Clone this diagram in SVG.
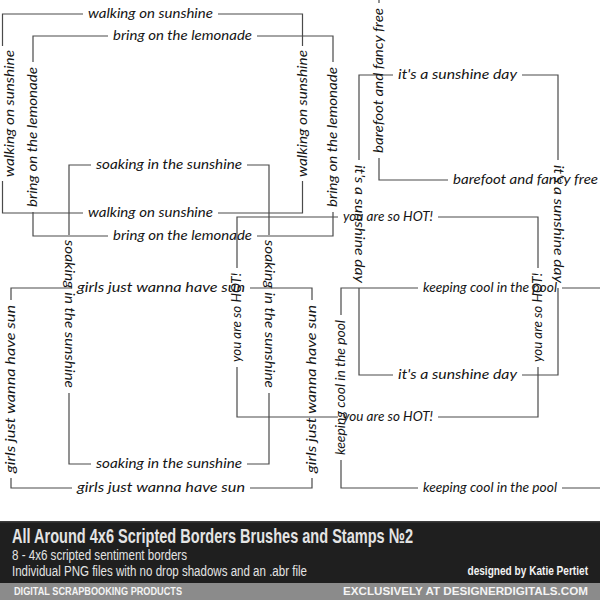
<svg xmlns="http://www.w3.org/2000/svg" width="600" height="600" viewBox="0 0 600 600">
<style>
.ln{fill:none;stroke:#4a4a4a;stroke-width:1.2}
.s{font-family:Lato,"Open Sans","DejaVu Sans",sans-serif;font-style:italic;font-weight:400;font-size:13px;fill:#151515;text-anchor:middle}
.b{font-family:"Liberation Sans",Arial,sans-serif;fill:#e4e4e4}
</style>
<rect width="600" height="600" fill="#ffffff"/>
<g id="frame-walking">
<path class="ln" d="M218,14 H302.5 V46 M302.5,181 V213 H218 M83,213 H2.5 V181 M2.5,46 V14 H83"/>
<text class="s" x="150.5" y="18" textLength="125" lengthAdjust="spacingAndGlyphs">walking on sunshine</text>
<text class="s" x="150.5" y="217" textLength="125" lengthAdjust="spacingAndGlyphs">walking on sunshine</text>
<text class="s" transform="translate(2.5,113.5) rotate(-90)" x="0" y="11" textLength="127" lengthAdjust="spacingAndGlyphs">walking on sunshine</text>
<text class="s" transform="translate(302.5,113.5) rotate(-90)" x="0" y="4" textLength="127" lengthAdjust="spacingAndGlyphs">walking on sunshine</text>
</g>
<g id="frame-lemonade">
<path class="ln" d="M257,36 H333 V62 M333,212 V236 H257 M108,236 H33 V212 M33,62 V36 H108"/>
<text class="s" x="182.5" y="40" textLength="139" lengthAdjust="spacingAndGlyphs">bring on the lemonade</text>
<text class="s" x="182.5" y="240" textLength="139" lengthAdjust="spacingAndGlyphs">bring on the lemonade</text>
<text class="s" transform="translate(33,137) rotate(-90)" x="0" y="4" textLength="140" lengthAdjust="spacingAndGlyphs">bring on the lemonade</text>
<text class="s" transform="translate(333,137) rotate(-90)" x="0" y="4" textLength="140" lengthAdjust="spacingAndGlyphs">bring on the lemonade</text>
</g>
<g id="frame-soaking">
<path class="ln" d="M247,165 H269 V235 M269,393 V464 H247 M91,464 H69 V393 M69,235 V165 H91"/>
<text class="s" x="169" y="169" textLength="146" lengthAdjust="spacingAndGlyphs">soaking in the sunshine</text>
<text class="s" x="169" y="468" textLength="146" lengthAdjust="spacingAndGlyphs">soaking in the sunshine</text>
<text class="s" transform="translate(69,314) rotate(90)" x="0" y="4" textLength="148" lengthAdjust="spacingAndGlyphs">soaking in the sunshine</text>
<text class="s" transform="translate(269,314) rotate(90)" x="0" y="4" textLength="148" lengthAdjust="spacingAndGlyphs">soaking in the sunshine</text>
</g>
<g id="frame-girls">
<path class="ln" d="M250,288 H312 V300 M312,478 V488 H250 M72,488 H11 V478 M11,300 V288 H72"/>
<text class="s" x="161" y="292" textLength="168" lengthAdjust="spacingAndGlyphs">girls just wanna have sun</text>
<text class="s" x="161" y="492" textLength="168" lengthAdjust="spacingAndGlyphs">girls just wanna have sun</text>
<text class="s" transform="translate(11,389) rotate(-90)" x="0" y="4" textLength="168" lengthAdjust="spacingAndGlyphs">girls just wanna have sun</text>
<text class="s" transform="translate(312,389) rotate(-90)" x="0" y="4" textLength="168" lengthAdjust="spacingAndGlyphs">girls just wanna have sun</text>
</g>
<g id="frame-hot">
<path class="ln" d="M438,217 H538 V268 M538,367 V417 H438 M338,417 H237 V367 M237,268 V217 H338"/>
<text class="s" x="388" y="221" textLength="90" lengthAdjust="spacingAndGlyphs">you are so HOT!</text>
<text class="s" x="388" y="421" textLength="90" lengthAdjust="spacingAndGlyphs">you are so HOT!</text>
<text class="s" transform="translate(237,317.5) rotate(-90)" x="0" y="4" textLength="89" lengthAdjust="spacingAndGlyphs">you are so HOT!</text>
<text class="s" transform="translate(538,317.5) rotate(-90)" x="0" y="4" textLength="89" lengthAdjust="spacingAndGlyphs">you are so HOT!</text>
</g>
<g id="frame-sunshine-day">
<path class="ln" d="M522,75 H558 V160 M558,288 V375 H522 M393,375 H359 V288 M359,160 V75 H393"/>
<text class="s" x="457.5" y="79" textLength="119" lengthAdjust="spacingAndGlyphs">it's a sunshine day</text>
<text class="s" x="457.5" y="379" textLength="119" lengthAdjust="spacingAndGlyphs">it's a sunshine day</text>
<text class="s" transform="translate(359,224) rotate(90)" x="0" y="4" textLength="118" lengthAdjust="spacingAndGlyphs">it's a sunshine day</text>
<text class="s" transform="translate(558,224) rotate(90)" x="0" y="4" textLength="118" lengthAdjust="spacingAndGlyphs">it's a sunshine day</text>
</g>
<g id="frame-barefoot">
<path class="ln" d="M379,-20 V3 M379,158 V180 H448"/>
<text class="s" x="525.5" y="184" textLength="145" lengthAdjust="spacingAndGlyphs">barefoot and fancy free</text>
<text class="s" transform="translate(379,80.5) rotate(-90)" x="0" y="4" textLength="145" lengthAdjust="spacingAndGlyphs">barefoot and fancy free</text>
</g>
<g id="frame-pool">
<path class="ln" d="M562,288 H610 M610,488 H562 M418,488 H341 V460 M341,315 V288 H418"/>
<text class="s" x="490" y="292" textLength="134" lengthAdjust="spacingAndGlyphs">keeping cool in the pool</text>
<text class="s" x="490" y="492" textLength="134" lengthAdjust="spacingAndGlyphs">keeping cool in the pool</text>
<text class="s" transform="translate(341,387.5) rotate(-90)" x="0" y="4" textLength="135" lengthAdjust="spacingAndGlyphs">keeping cool in the pool</text>
</g>
<g id="banner">
<rect x="0" y="521" width="600" height="62" fill="#1f1f1f"/>
<rect x="0" y="521" width="600" height="1.5" fill="#3c3c3c"/>
<rect x="0" y="583" width="600" height="17" fill="#8b8b8b"/>
<text class="b" x="12" y="543" font-size="21" font-weight="bold" textLength="401" lengthAdjust="spacingAndGlyphs">All Around 4x6 Scripted Borders Brushes and Stamps №2</text>
<text class="b" x="12" y="560" font-size="14" textLength="175" lengthAdjust="spacingAndGlyphs">8 - 4x6 scripted sentiment borders</text>
<text class="b" x="12" y="576" font-size="14" textLength="295" lengthAdjust="spacingAndGlyphs">Individual PNG files with no drop shadows and an .abr file</text>
<text class="b" transform="translate(588,575) scale(1,1.2)" x="0" y="0" font-size="10.1" font-weight="bold" text-anchor="end" style="fill:#f2f2f2">designed by Katie Pertiet</text>
<text class="b" x="14" y="595" font-size="11" font-weight="bold" textLength="168" lengthAdjust="spacingAndGlyphs" style="fill:#f4f4f4">DIGITAL SCRAPBOOKING PRODUCTS</text>
<text class="b" x="343" y="595" font-size="11" font-weight="bold" textLength="245" lengthAdjust="spacingAndGlyphs" style="fill:#f4f4f4">EXCLUSIVELY AT DESIGNERDIGITALS.COM</text>
</g>
</svg>
